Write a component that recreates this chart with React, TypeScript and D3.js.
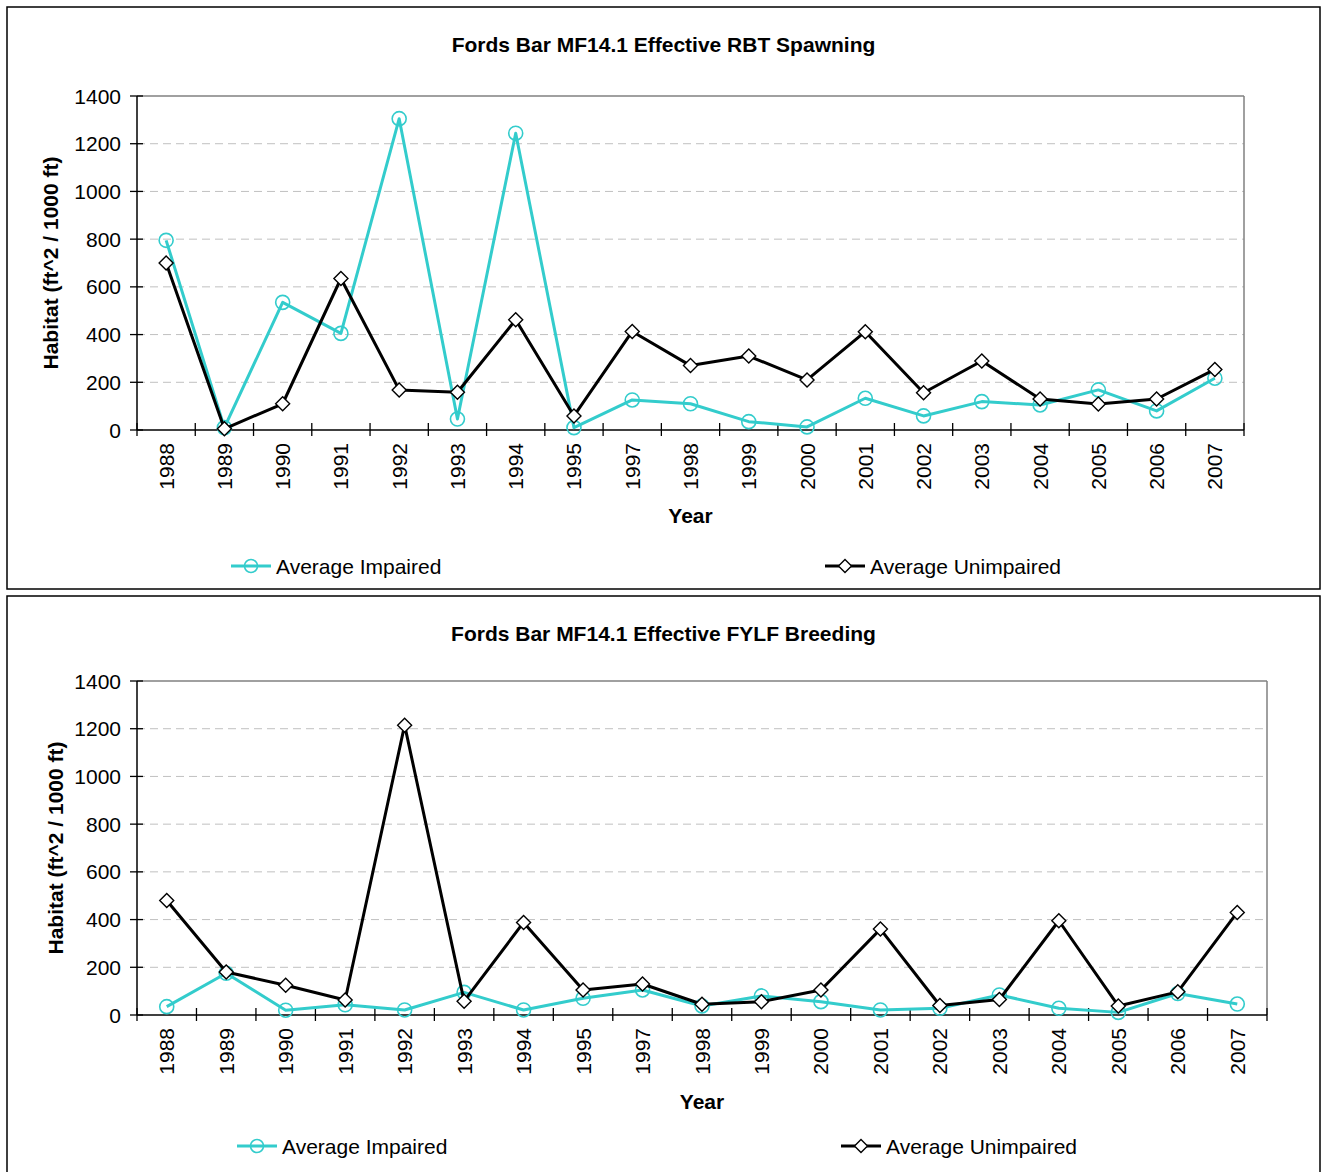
import React from "react";
import * as d3 from "d3";

const years = ["1988", "1989", "1990", "1991", "1992", "1993", "1994", "1995", "1997", "1998", "1999", "2000", "2001", "2002", "2003", "2004", "2005", "2006", "2007"];
const yTicks = [0, 200, 400, 600, 800, 1000, 1200, 1400];

const rbtImpaired = [795, 10, 535, 405, 1305, 46, 1244, 10, 126, 110, 35, 13, 133, 59, 119, 105, 168, 80, 217];
const rbtUnimpaired = [700, 5, 110, 635, 168, 158, 462, 59, 413, 270, 310, 210, 412, 156, 289, 130, 109, 130, 254];
const fylfImpaired = [35, 175, 20, 43, 21, 95, 21, 70, 105, 38, 80, 56, 21, 28, 84, 28, 11, 90, 46];
const fylfUnimpaired = [480, 180, 125, 63, 1215, 58, 388, 105, 130, 45, 56, 105, 360, 40, 65, 395, 38, 97, 430];

const CYAN = "#33CCCC";
const FONT = "'Liberation Sans', Arial, sans-serif";

type ChartProps = {
  title: string;
  impaired: number[];
  unimpaired: number[];
  panel: { x: number; y: number; w: number; h: number };
  plot: { left: number; right: number; top: number; bottom: number };
  titleY: number;
  yTitleX: number;
  xTitleY: number;
  legendY: number;
  legend1X: number;
  legend2X: number;
};

function Diamond({ cx, cy, r }: { cx: number; cy: number; r: number }) {
  return (
    <path
      d={`M${cx},${cy - r}L${cx + r},${cy}L${cx},${cy + r}L${cx - r},${cy}Z`}
      fill="#fff"
      stroke="#000"
      strokeWidth={1.4}
    />
  );
}

function Chart(p: ChartProps) {
  const { plot } = p;
  const x = d3.scaleBand<string>().domain(years).range([plot.left, plot.right]);
  const y = d3.scaleLinear().domain([0, 1400]).range([plot.bottom, plot.top]);
  const bw = x.bandwidth();
  const cx = (i: number) => (x(years[i]) as number) + bw / 2;
  const line = d3
    .line<number>()
    .x((_, i) => cx(i))
    .y((d) => y(d));
  const boundaries = years.map((yr) => x(yr) as number).concat([plot.right]);
  const plotCx = (plot.left + plot.right) / 2;
  const plotCy = (plot.top + plot.bottom) / 2;

  return (
    <g>
      <rect x={p.panel.x} y={p.panel.y} width={p.panel.w} height={p.panel.h} fill="#fff" stroke="#000" strokeWidth={1.5} />
      <text x={(p.panel.x * 2 + p.panel.w) / 2} y={p.titleY} textAnchor="middle" dominantBaseline="central" fontFamily={FONT} fontWeight="bold" fontSize={21}>
        {p.title}
      </text>
      {yTicks.slice(1, -1).map((t) => (
        <line key={t} x1={plot.left} x2={plot.right} y1={y(t)} y2={y(t)} stroke="#c0c0c0" strokeWidth={1} strokeDasharray="8,5" />
      ))}
      <line x1={plot.left} x2={plot.right} y1={plot.top} y2={plot.top} stroke="#808080" strokeWidth={1.5} />
      <line x1={plot.right} x2={plot.right} y1={plot.top} y2={plot.bottom} stroke="#808080" strokeWidth={1.5} />
      <line x1={plot.left} x2={plot.left} y1={plot.top} y2={plot.bottom} stroke="#000" strokeWidth={1.5} />
      <line x1={plot.left} x2={plot.right} y1={plot.bottom} y2={plot.bottom} stroke="#000" strokeWidth={1.5} />
      {yTicks.map((t) => (
        <g key={t}>
          <line x1={plot.left - 7} x2={plot.left + 6} y1={y(t)} y2={y(t)} stroke="#000" strokeWidth={1.3} />
          <text x={plot.left - 16} y={y(t)} textAnchor="end" dominantBaseline="central" fontFamily={FONT} fontSize={21}>
            {t}
          </text>
        </g>
      ))}
      {boundaries.map((b, i) => (
        <line key={i} x1={b} x2={b} y1={plot.bottom - 7} y2={plot.bottom + 6} stroke="#000" strokeWidth={1.3} />
      ))}
      {years.map((yr, i) => (
        <text key={yr} transform={`translate(${cx(i)},${plot.bottom + 13}) rotate(-90)`} textAnchor="end" dominantBaseline="central" fontFamily={FONT} fontSize={21}>
          {yr}
        </text>
      ))}
      <text x={plotCx} y={p.xTitleY} textAnchor="middle" dominantBaseline="central" fontFamily={FONT} fontWeight="bold" fontSize={21}>
        Year
      </text>
      <text transform={`translate(${p.yTitleX},${plotCy}) rotate(-90)`} textAnchor="middle" dominantBaseline="central" fontFamily={FONT} fontWeight="bold" fontSize={21}>
        Habitat (ft^2 / 1000 ft)
      </text>
      <path d={line(p.impaired) || ""} fill="none" stroke={CYAN} strokeWidth={3} strokeLinejoin="round" />
      {p.impaired.map((v, i) => (
        <circle key={i} cx={cx(i)} cy={y(v)} r={7} fill="none" stroke={CYAN} strokeWidth={1.6} />
      ))}
      <path d={line(p.unimpaired) || ""} fill="none" stroke="#000" strokeWidth={3} strokeLinejoin="round" />
      {p.unimpaired.map((v, i) => (
        <Diamond key={i} cx={cx(i)} cy={y(v)} r={7} />
      ))}
      <line x1={p.legend1X} x2={p.legend1X + 40} y1={p.legendY} y2={p.legendY} stroke={CYAN} strokeWidth={3} />
      <circle cx={p.legend1X + 20} cy={p.legendY} r={6.5} fill="none" stroke={CYAN} strokeWidth={1.6} />
      <text x={p.legend1X + 45} y={p.legendY} dominantBaseline="central" fontFamily={FONT} fontSize={21}>
        Average Impaired
      </text>
      <line x1={p.legend2X} x2={p.legend2X + 40} y1={p.legendY} y2={p.legendY} stroke="#000" strokeWidth={3} />
      <Diamond cx={p.legend2X + 20} cy={p.legendY} r={6.5} />
      <text x={p.legend2X + 45} y={p.legendY} dominantBaseline="central" fontFamily={FONT} fontSize={21}>
        Average Unimpaired
      </text>
    </g>
  );
}

export default function App() {
  return (
    <svg width={1322} height={1172} style={{ position: "absolute", left: 0, top: 0 }}>
      <rect x={0} y={0} width={1322} height={1172} fill="#fff" />
      <Chart
        title="Fords Bar MF14.1 Effective RBT Spawning"
        impaired={rbtImpaired}
        unimpaired={rbtUnimpaired}
        panel={{ x: 7, y: 7, w: 1313, h: 582 }}
        plot={{ left: 137, right: 1244, top: 96, bottom: 430 }}
        titleY={44}
        yTitleX={50}
        xTitleY={515}
        legendY={566}
        legend1X={231}
        legend2X={825}
      />
      <Chart
        title="Fords Bar MF14.1 Effective FYLF Breeding"
        impaired={fylfImpaired}
        unimpaired={fylfUnimpaired}
        panel={{ x: 7, y: 596, w: 1313, h: 590 }}
        plot={{ left: 137, right: 1267, top: 681, bottom: 1015 }}
        titleY={633}
        yTitleX={55}
        xTitleY={1101}
        legendY={1146}
        legend1X={237}
        legend2X={841}
      />
    </svg>
  );
}
